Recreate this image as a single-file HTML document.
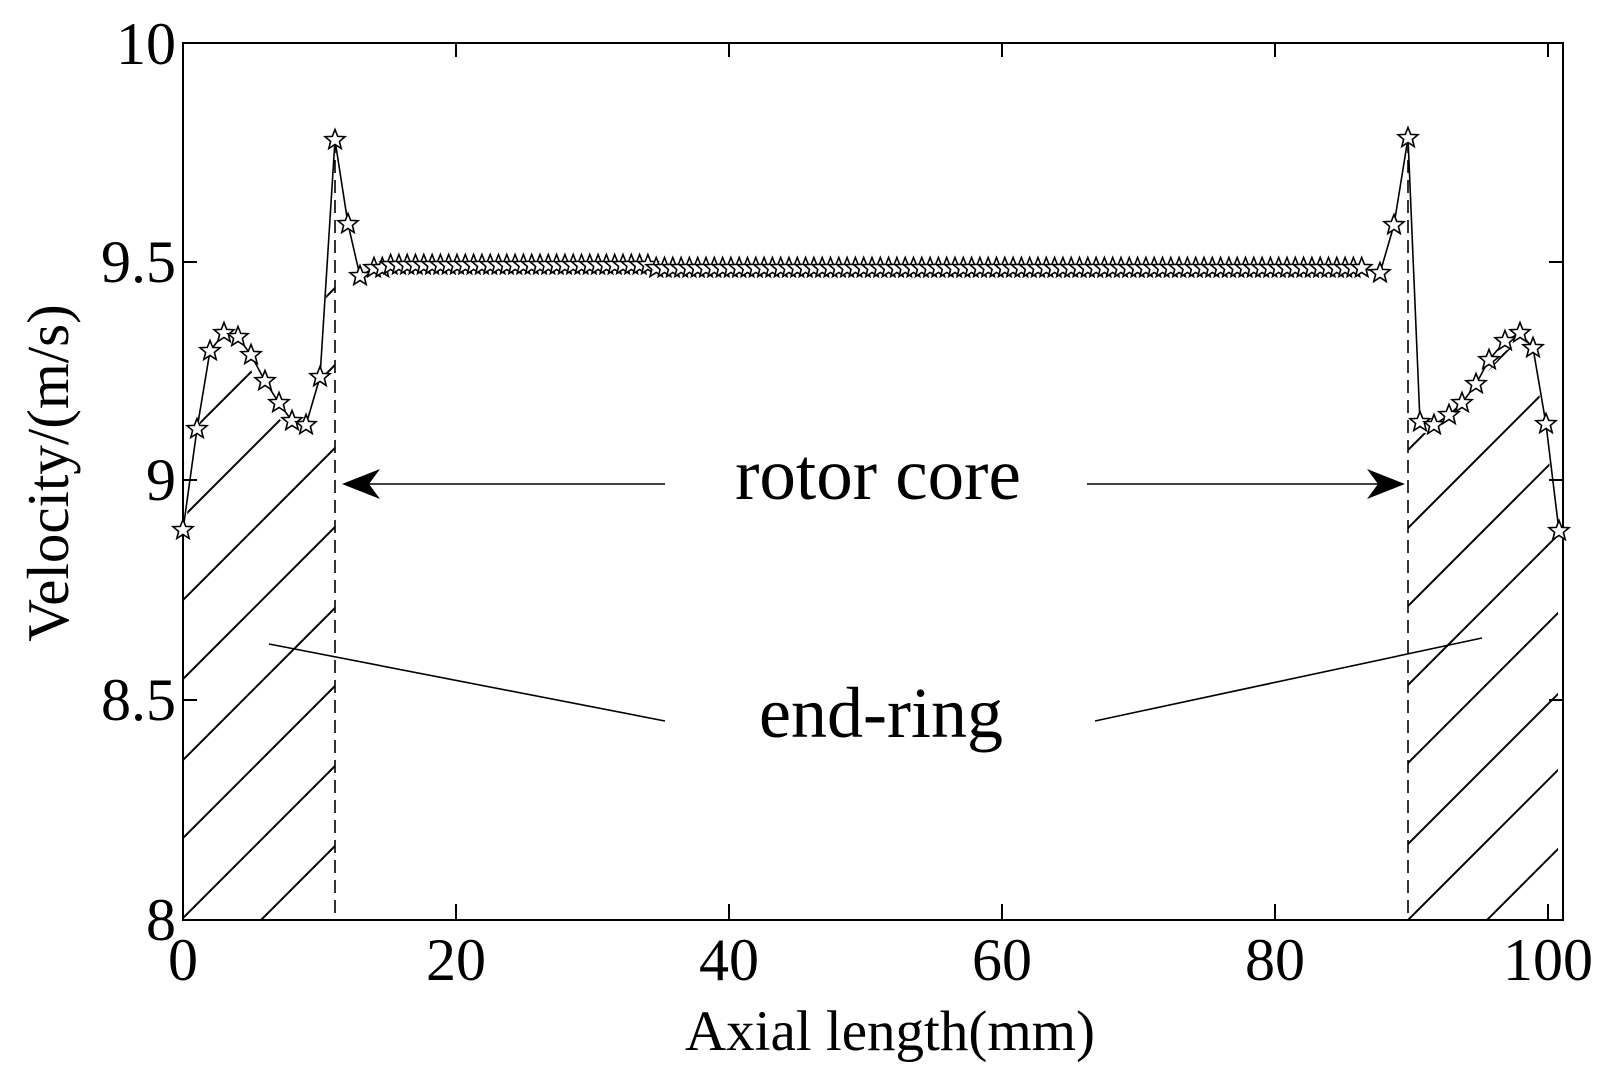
<!DOCTYPE html>
<html><head><meta charset="utf-8"><style>
html,body{margin:0;padding:0;background:#fff;}
svg{display:block;}
text{font-family:"Liberation Serif",serif;fill:#000;}
</style></head><body>
<svg id="s" width="1615" height="1087" viewBox="0 0 1615 1087" xmlns="http://www.w3.org/2000/svg">
<defs>
<polygon id="st" points="0,-10.5 2.7,-3.6 10,-3.3 4.4,1.4 6.2,8.5 0,4.4 -6.2,8.5 -4.4,1.4 -10,-3.3 -2.7,-3.6" fill="#fff" stroke="#000" stroke-width="1.6"/>
<clipPath id="cl"><polygon points="183,545 197,440 210,365 224,348 238,352 251,370 265,396 279,418 292,436 306,440 320,392 335,160 335,920 183,920"/></clipPath>
<clipPath id="cr"><polygon points="1408,148 1420,432 1434,435 1449,425 1462,413 1476,394 1489,370 1505,351 1520,343 1533,358 1546,434 1558,541 1558,920 1408,920"/></clipPath>
</defs>
<g stroke="#000" stroke-width="2" clip-path="url(#cl)">
<line x1="183" y1="440" x2="335" y2="288"/>
<line x1="183" y1="517" x2="335" y2="365"/>
<line x1="183" y1="600" x2="335" y2="448"/>
<line x1="183" y1="679" x2="335" y2="527"/>
<line x1="183" y1="760" x2="335" y2="608"/>
<line x1="183" y1="838" x2="335" y2="686"/>
<line x1="183" y1="918" x2="335" y2="766"/>
<line x1="183" y1="998" x2="335" y2="846"/>
</g>
<g stroke="#000" stroke-width="2" clip-path="url(#cr)">
<line x1="1408" y1="450" x2="1563" y2="295"/>
<line x1="1408" y1="528" x2="1563" y2="373"/>
<line x1="1408" y1="606" x2="1563" y2="451"/>
<line x1="1408" y1="685" x2="1563" y2="530"/>
<line x1="1408" y1="763" x2="1563" y2="608"/>
<line x1="1408" y1="844" x2="1563" y2="689"/>
<line x1="1408" y1="920" x2="1563" y2="765"/>
<line x1="1408" y1="999" x2="1563" y2="844"/>
</g>
<line x1="335" y1="140" x2="335" y2="920" stroke="#000" stroke-width="1.6" stroke-dasharray="13 7"/>
<line x1="1408" y1="140" x2="1408" y2="920" stroke="#000" stroke-width="1.6" stroke-dasharray="13 7"/>
<rect x="183" y="43" width="1380" height="877" fill="none" stroke="#000" stroke-width="2"/>
<g stroke="#000" stroke-width="2">
<line x1="183" y1="262" x2="197" y2="262"/><line x1="183" y1="480" x2="197" y2="480"/><line x1="183" y1="700" x2="197" y2="700"/>
<line x1="1563" y1="262" x2="1549" y2="262"/><line x1="1563" y1="480" x2="1549" y2="480"/><line x1="1563" y1="700" x2="1549" y2="700"/>
<line x1="456" y1="920" x2="456" y2="904"/><line x1="729" y1="920" x2="729" y2="904"/><line x1="1002" y1="920" x2="1002" y2="904"/><line x1="1275" y1="920" x2="1275" y2="904"/><line x1="1548" y1="920" x2="1548" y2="904"/>
<line x1="456" y1="43" x2="456" y2="57"/><line x1="729" y1="43" x2="729" y2="57"/><line x1="1002" y1="43" x2="1002" y2="57"/><line x1="1275" y1="43" x2="1275" y2="57"/><line x1="1548" y1="43" x2="1548" y2="57"/>
</g>
<g font-size="60">
<text x="176" y="64" text-anchor="end">10</text>
<text x="176" y="282" text-anchor="end">9.5</text>
<text x="176" y="500" text-anchor="end">9</text>
<text x="176" y="720" text-anchor="end">8.5</text>
<text x="176" y="940" text-anchor="end">8</text>
<text x="183" y="980" text-anchor="middle">0</text>
<text x="456" y="980" text-anchor="middle">20</text>
<text x="729" y="980" text-anchor="middle">40</text>
<text x="1002" y="980" text-anchor="middle">60</text>
<text x="1275" y="980" text-anchor="middle">80</text>
<text x="1548" y="980" text-anchor="middle">100</text>
</g>
<text x="890" y="1050" font-size="57" text-anchor="middle">Axial length(mm)</text>
<text transform="translate(68,473) rotate(-90)" font-size="59" text-anchor="middle">Velocity/(m/s)</text>
<text x="878" y="499" font-size="73" text-anchor="middle">rotor core</text>
<text x="881" y="737" font-size="72" text-anchor="middle">end-ring</text>
<g stroke="#000" stroke-width="1.6">
<line x1="665" y1="484" x2="365" y2="484"/>
<line x1="1087" y1="484" x2="1385" y2="484"/>
<line x1="269" y1="644" x2="665" y2="721"/>
<line x1="1095" y1="721" x2="1482" y2="638"/>
</g>
<polygon points="342,484 380,469 369,484 380,499" fill="#000"/>
<polygon points="1405,484 1367,469 1378,484 1367,499" fill="#000"/>
<polyline id="curve" fill="none" stroke="#000" stroke-width="1.6" points=""/>
<g id="marks"></g>
</svg>
<script>
var L=[[183,530],[197,429],[210,351],[224,333],[238,337],[251,355],[265,381],[279,403],[292,421],[306,425],[320,377],[335,140],[348,224],[360,276]];
var F=[];
for(var x=374;x<=1368;x+=8.3){var y=268;if(x>390&&x<650)y=265;F.push([x,y]);}
var R=[[1380,273],[1394,225],[1408,138],[1420,422],[1434,425],[1449,415],[1462,403],[1476,384],[1489,360],[1505,341],[1520,333],[1533,348],[1546,424],[1559,531]];
var P=L.concat(F,R);
document.getElementById('curve').setAttribute('points',P.map(function(p){return p[0].toFixed(1)+','+p[1];}).join(' '));
var g=document.getElementById('marks'),ns='http://www.w3.org/2000/svg';
P.forEach(function(p){var u=document.createElementNS(ns,'use');u.setAttribute('href','#st');u.setAttribute('x',p[0].toFixed(1));u.setAttribute('y',p[1]);g.appendChild(u);});
</script>
</body></html>
